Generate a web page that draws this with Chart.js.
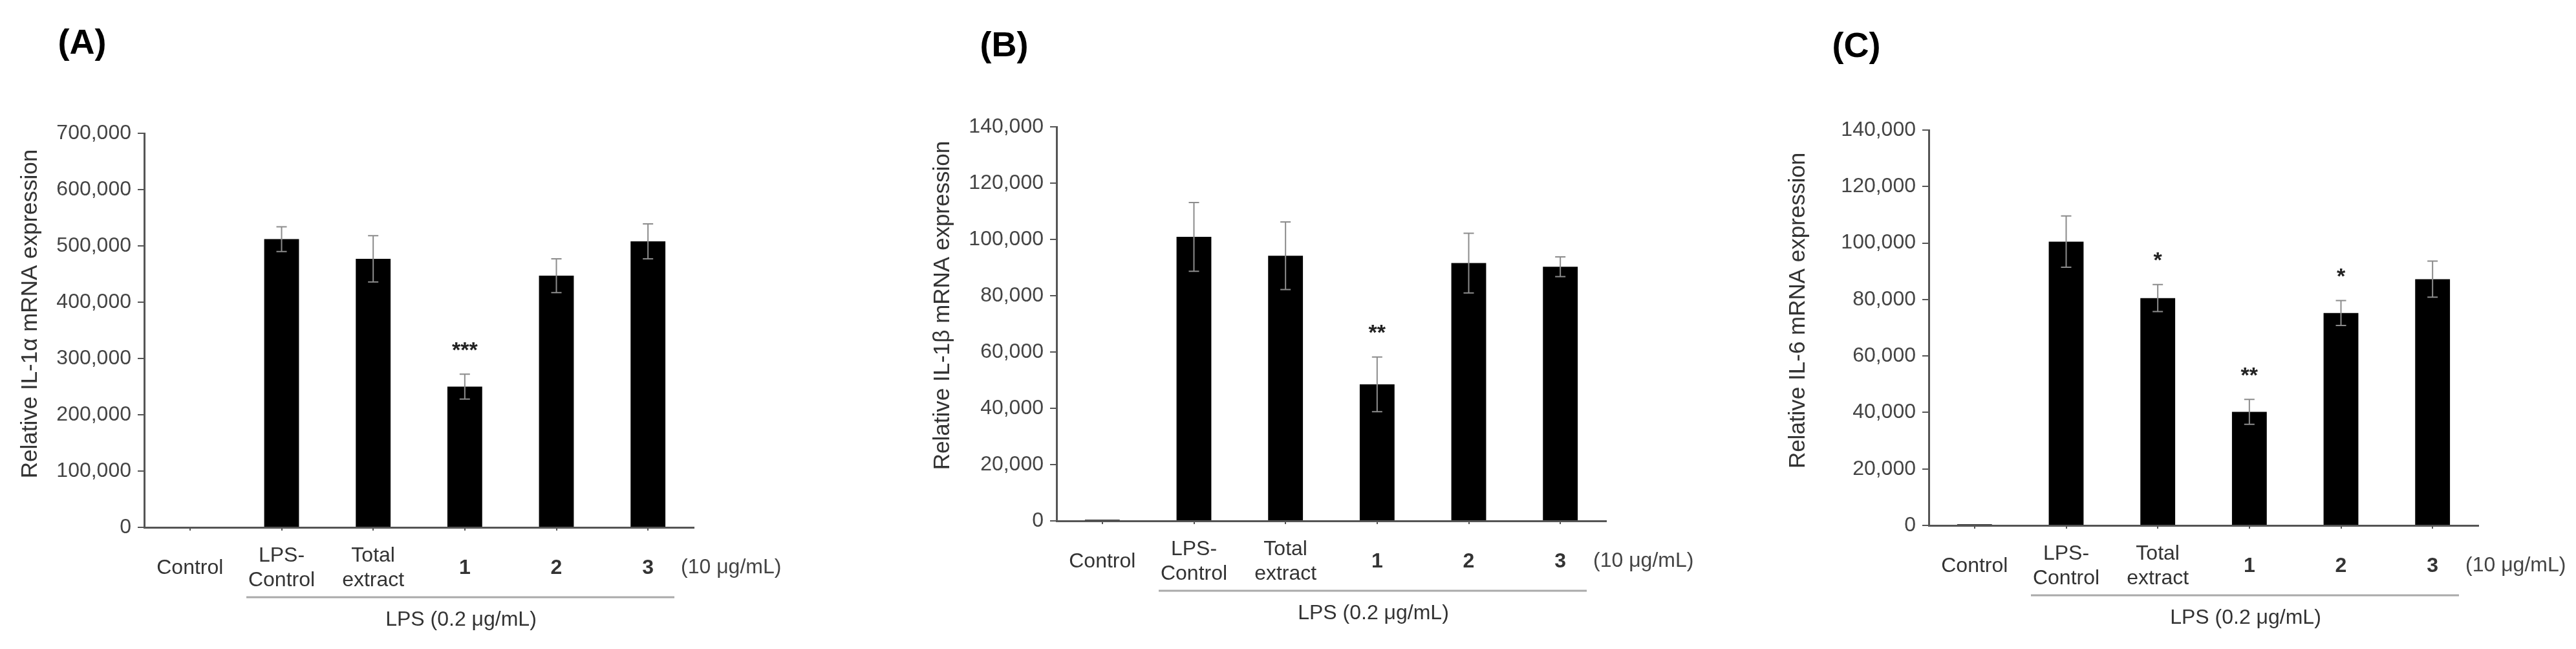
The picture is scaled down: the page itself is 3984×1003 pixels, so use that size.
<!DOCTYPE html>
<html>
<head>
<meta charset="utf-8">
<script src="https://cdn.jsdelivr.net/npm/chart.js@4.4.0/dist/chart.umd.min.js"></script>
<style>
  body { margin: 0; background: #fff; width: 3984px; height: 1003px; position: relative; overflow: hidden; }
  canvas { position: absolute; top: 0; }
</style>
</head>
<body>
<canvas id="chartA" width="1330" height="1003" style="left:0px"></canvas>
<canvas id="chartB" width="1330" height="1003" style="left:1330px"></canvas>
<canvas id="chartC" width="1324" height="1003" style="left:2660px"></canvas>
<script>
// data
const categories = [['Control'], ['LPS-', 'Control'], ['Total', 'extract'], '1', '2', '3'];

const il1aValues = [0, 512000, 477000, 250000, 447000, 508000];
const il1aErrors = [0, 22000, 41000, 22000, 30000, 31000];
const il1aStars  = ['', '', '', '***', '', ''];

const il1bValues = [400, 100900, 94200, 48500, 91600, 90300];
const il1bErrors = [0, 12200, 12000, 9700, 10600, 3500];
const il1bStars  = ['', '', '', '**', '', ''];

const il6Values = [400, 100500, 80500, 40200, 75200, 87200];
const il6Errors = [0, 9100, 4800, 4400, 4400, 6400];
const il6Stars  = ['', '', '*', '**', '*', ''];

const il1aTicks = { max: 700000, step: 100000 };
const il1bTicks = { max: 140000, step: 20000 };
const il6Ticks  = { max: 140000, step: 20000 };

const doseLabel = '(10 μg/mL)';
const lpsLabel = 'LPS (0.2 μg/mL)';

const FONT = '"Liberation Sans", Arial, sans-serif';
const H = 1003;
const PLOT_W = 850;

const panels = [
  { id: 'chartA', left: 0, width: 1330, axisX: 223, top: 206, zero: 815,
    letter: '(A)', letterX: 127, letterY: 68, titleX: 47, titleY: 485,
    ylabel: 'Relative IL-1α mRNA expression',
    values: il1aValues, errors: il1aErrors, stars: il1aStars, ticks: il1aTicks },
  { id: 'chartB', left: 1330, width: 1330, axisX: 1634, top: 196, zero: 805,
    letter: '(B)', letterX: 1553, letterY: 72, titleX: 1458, titleY: 472,
    ylabel: 'Relative IL-1β mRNA expression',
    values: il1bValues, errors: il1bErrors, stars: il1bStars, ticks: il1bTicks },
  { id: 'chartC', left: 2660, width: 1324, axisX: 2983, top: 201, zero: 812,
    letter: '(C)', letterX: 2871, letterY: 73, titleX: 2781, titleY: 480,
    ylabel: 'Relative IL-6 mRNA expression',
    values: il6Values, errors: il6Errors, stars: il6Stars, ticks: il6Ticks }
];

function makeExtras(p) {
  return {
    id: 'extras',
    afterDatasetsDraw(chart) {
      const ctx = chart.ctx;
      const y = chart.scales.y;
      const meta = chart.getDatasetMeta(0);
      ctx.save();
      ctx.strokeStyle = '#8c8c8c';
      ctx.lineWidth = 2;
      ctx.fillStyle = '#222';
      ctx.font = 'bold 34px ' + FONT;
      ctx.textAlign = 'center';
      ctx.textBaseline = 'middle';
      meta.data.forEach((bar, i) => {
        const e = p.errors[i];
        if (!e) return;
        const yt = y.getPixelForValue(p.values[i] + e);
        const yb = y.getPixelForValue(p.values[i] - e);
        ctx.beginPath();
        ctx.moveTo(bar.x, yt); ctx.lineTo(bar.x, yb);
        ctx.moveTo(bar.x - 8, yt); ctx.lineTo(bar.x + 8, yt);
        ctx.moveTo(bar.x - 8, yb); ctx.lineTo(bar.x + 8, yb);
        ctx.stroke();
        if (p.stars[i]) ctx.fillText(p.stars[i], bar.x, yt - 36);
      });
      ctx.restore();
    },
    afterDraw(chart) {
      const ctx = chart.ctx;
      const ax = p.axisX - p.left;
      ctx.save();
      // panel letter
      ctx.fillStyle = '#000';
      ctx.font = 'bold 54px ' + FONT;
      ctx.textAlign = 'center';
      ctx.textBaseline = 'middle';
      ctx.fillText(p.letter, p.letterX - p.left, p.letterY);
      // y title
      ctx.fillStyle = '#333';
      ctx.font = '35px ' + FONT;
      ctx.save();
      ctx.translate(p.titleX - p.left, p.titleY);
      ctx.rotate(-Math.PI / 2);
      ctx.fillText(p.ylabel, 0, 0);
      ctx.restore();
      // dose unit
      ctx.font = '32px ' + FONT;
      ctx.fillStyle = '#444';
      ctx.textAlign = 'left';
      ctx.fillText(doseLabel, ax + PLOT_W - 20, p.zero + 62);
      // LPS bracket line
      ctx.strokeStyle = '#aaa';
      ctx.lineWidth = 3;
      ctx.beginPath();
      ctx.moveTo(ax + 158, p.zero + 108);
      ctx.lineTo(ax + 820, p.zero + 108);
      ctx.stroke();
      ctx.textAlign = 'center';
      ctx.fillStyle = '#333';
      ctx.fillText(lpsLabel, ax + 490, p.zero + 143);
      ctx.restore();
    }
  };
}

panels.forEach(p => {
  const ctx = document.getElementById(p.id).getContext('2d');
  new Chart(ctx, {
    type: 'bar',
    data: {
      labels: categories,
      datasets: [{
        data: p.values,
        backgroundColor: '#000',
        borderWidth: 0,
        barPercentage: 0.38,
        categoryPercentage: 1
      }]
    },
    options: {
      responsive: false,
      animation: false,
      devicePixelRatio: 1,
      layout: {
        padding: { left: 0, top: p.top, right: p.width - (p.axisX - p.left) - PLOT_W, bottom: 0 }
      },
      plugins: { legend: { display: false }, tooltip: { enabled: false } },
      scales: {
        x: {
          offset: true,
          afterFit: s => { s.height = H - p.zero; },
          border: { display: true, color: '#555', width: 3 },
          grid: { display: true, drawOnChartArea: false, offset: false, tickLength: 5, color: '#555', lineWidth: 2 },
          ticks: {
            autoSkip: false, maxRotation: 0, padding: 39, color: '#333', crossAlign: 'center',
            font: c => ({ family: FONT, size: 32, lineHeight: 1.2, weight: c.index >= 3 ? 'bold' : 'normal' })
          }
        },
        y: {
          min: 0, max: p.ticks.max,
          afterFit: s => { s.width = p.axisX - p.left; },
          border: { display: true, color: '#555', width: 3 },
          grid: { display: true, drawOnChartArea: false, tickLength: 10, color: '#555', lineWidth: 2 },
          ticks: {
            stepSize: p.ticks.step, padding: 10, color: '#444',
            font: { family: FONT, size: 32 },
            callback: v => v.toLocaleString('en-US')
          }
        }
      }
    },
    plugins: [makeExtras(p)]
  });
});
</script>
</body>
</html>
